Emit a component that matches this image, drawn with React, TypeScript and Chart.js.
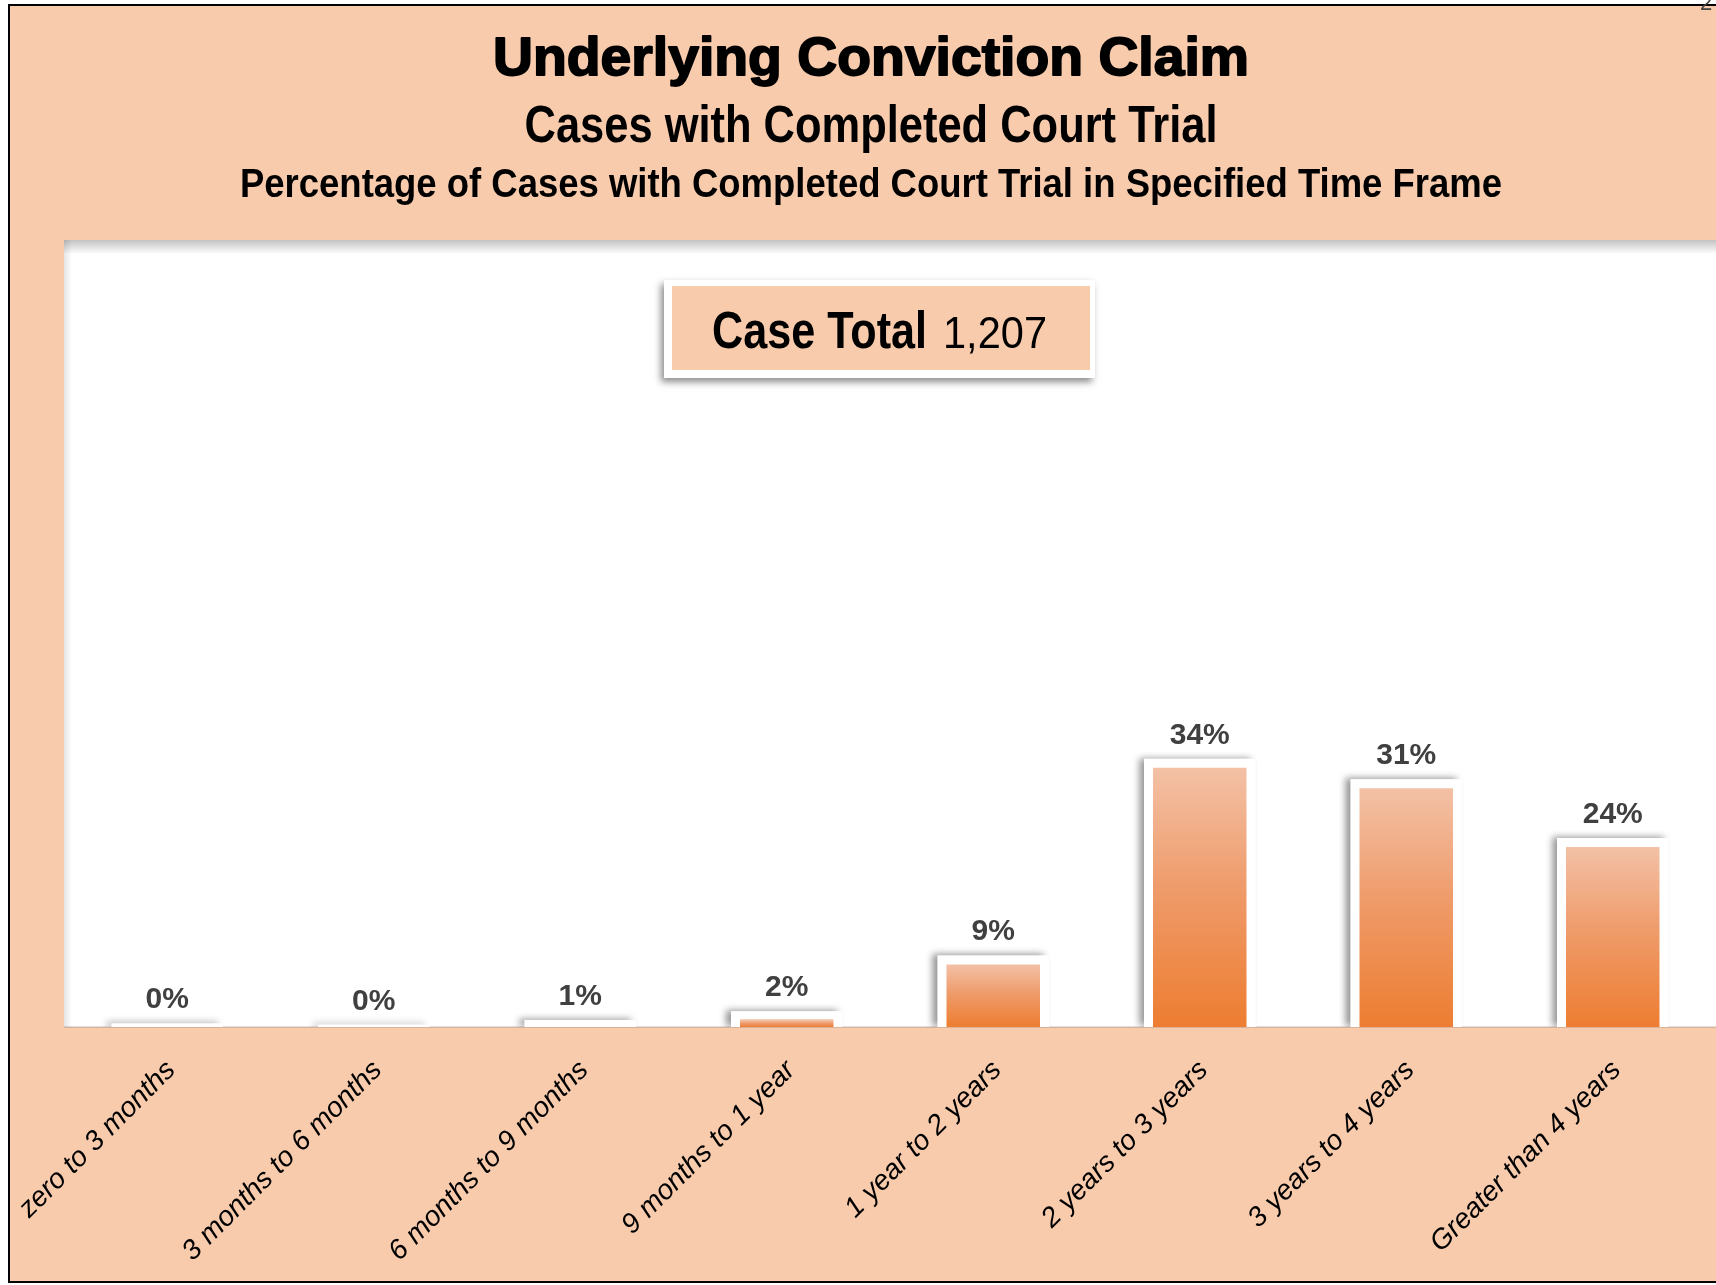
import React, { useEffect, useRef } from 'react';
import { Chart, registerables } from 'chart.js';

Chart.register(...registerables);

// ---- data ----
const CATEGORIES = [
  'zero to 3 months',
  '3 months to 6 months',
  '6 months to 9 months',
  '9 months to 1 year',
  '1 year to 2 years',
  '2 years to 3 years',
  '3 years to 4 years',
  'Greater than 4 years',
];
const PERCENTAGES = [0.45, 0.3, 0.9, 2.0, 9.1, 34.1, 31.49, 24.0];
const Y_MIN = 0;
const Y_MAX = 100;

const TITLE = 'Underlying Conviction Claim';
const SUBTITLE = 'Cases with Completed Court Trial';
const SUBTITLE_2 = 'Percentage of Cases with Completed Court Trial in Specified Time Frame';
const CASE_TOTAL_LABEL = 'Case Total';
const CASE_TOTAL = 1207;
const PAGE_MARK = '2';

// ---- styles ----
const PEACH = '#F8CBAD';
const BAR_BORDER = 9;
const W = 1716;
const H = 1285;

function fitText(
  ctx: CanvasRenderingContext2D,
  text: string,
  x: number,
  baseline: number,
  font: string,
  targetWidth: number,
  align: 'center' | 'left',
  stroke = 0,
) {
  ctx.save();
  ctx.font = font;
  ctx.textBaseline = 'alphabetic';
  ctx.textAlign = 'left';
  const w = ctx.measureText(text).width;
  const s = targetWidth / w;
  const left = align === 'center' ? x - targetWidth / 2 : x;
  ctx.translate(left, baseline);
  ctx.scale(s, 1);
  ctx.fillStyle = '#000';
  ctx.fillText(text, 0, 0);
  if (stroke > 0) {
    ctx.strokeStyle = '#000';
    ctx.lineWidth = stroke;
    ctx.lineJoin = 'round';
    ctx.strokeText(text, 0, 0);
  }
  ctx.restore();
}

const decorPlugin = {
  id: 'decor',
  beforeDraw(chart: any) {
    const { ctx, chartArea } = chart;
    const { left, top, right, bottom } = chartArea;
    ctx.save();
    // titles
    fitText(ctx, TITLE, 871, 75, 'bold 54px "Liberation Sans", Arial, sans-serif', 756, 'center', 1.8);
    fitText(ctx, SUBTITLE, 871, 142, 'bold 52px "Liberation Sans", Arial, sans-serif', 693, 'center');
    fitText(ctx, SUBTITLE_2, 871, 197, 'bold 40px "Liberation Sans", Arial, sans-serif', 1262, 'center');

    // plot area
    ctx.fillStyle = '#ffffff';
    ctx.fillRect(left, top, right - left, bottom - top);
    let g = ctx.createLinearGradient(0, top, 0, top + 14);
    g.addColorStop(0, 'rgba(0,0,0,0.24)');
    g.addColorStop(1, 'rgba(0,0,0,0)');
    ctx.fillStyle = g;
    ctx.fillRect(left, top, right - left, 14);
    g = ctx.createLinearGradient(left, 0, left + 8, 0);
    g.addColorStop(0, 'rgba(0,0,0,0.10)');
    g.addColorStop(1, 'rgba(0,0,0,0)');
    ctx.fillStyle = g;
    ctx.fillRect(left, top, 8, bottom - top);
    ctx.fillStyle = 'rgba(0,0,0,0.12)';
    ctx.fillRect(left, bottom - 1, right - left, 2);

    // case total box
    ctx.save();
    ctx.shadowColor = 'rgba(0,0,0,0.45)';
    ctx.shadowBlur = 7;
    ctx.shadowOffsetX = -3;
    ctx.shadowOffsetY = 4;
    ctx.fillStyle = '#ffffff';
    ctx.fillRect(664, 280, 431, 98);
    ctx.restore();
    ctx.fillStyle = PEACH;
    ctx.fillRect(672, 286, 418, 84);
    fitText(ctx, CASE_TOTAL_LABEL, 712, 348, 'bold 52px "Liberation Sans", Arial, sans-serif', 215, 'left');
    fitText(ctx, CASE_TOTAL.toLocaleString('en-US'), 943, 348, '44px "Liberation Sans", Arial, sans-serif', 104, 'left');

    // page mark (cut off at the top right)
    ctx.fillStyle = '#444';
    ctx.font = '22px "Liberation Sans", Arial, sans-serif';
    ctx.textAlign = 'left';
    ctx.textBaseline = 'alphabetic';
    ctx.fillText(PAGE_MARK, 1700, 10);
    ctx.restore();
  },
  beforeDatasetsDraw(chart: any) {
    const { ctx, chartArea } = chart;
    const meta = chart.getDatasetMeta(0);
    ctx.save();
    ctx.beginPath();
    ctx.rect(chartArea.left, chartArea.top, chartArea.right - chartArea.left, chartArea.bottom - chartArea.top);
    ctx.clip();
    meta.data.forEach((el: any) => {
      const { x, y, base, width } = el.getProps(['x', 'y', 'base', 'width'], true);
      ctx.save();
      ctx.shadowColor = 'rgba(0,0,0,0.42)';
      ctx.shadowBlur = 7;
      ctx.shadowOffsetX = -5;
      ctx.shadowOffsetY = -1;
      ctx.fillStyle = '#ffffff';
      ctx.fillRect(x - width / 2, y, width, base - y);
      ctx.restore();
    });
    ctx.restore();
  },
  afterDatasetsDraw(chart: any) {
    const { ctx } = chart;
    const meta = chart.getDatasetMeta(0);
    ctx.save();
    ctx.fillStyle = '#404040';
    ctx.font = 'bold 30px "Liberation Sans", Arial, sans-serif';
    ctx.textAlign = 'center';
    ctx.textBaseline = 'alphabetic';
    meta.data.forEach((el: any, i: number) => {
      const { x, y } = el.getProps(['x', 'y'], true);
      ctx.fillText(`${Math.round(PERCENTAGES[i])}%`, x, y - 15);
    });
    ctx.restore();
  },
};

export default function App() {
  const ref = useRef<HTMLCanvasElement>(null);

  useEffect(() => {
    const canvas = ref.current;
    if (!canvas) return;
    const chart = new Chart(canvas, {
      type: 'bar',
      data: {
        labels: CATEGORIES,
        datasets: [
          {
            data: PERCENTAGES,
            backgroundColor: (c: any) => {
              const ch = c.chart;
              if (!ch.chartArea || c.type !== 'data') return '#ED7D31';
              const ys = ch.scales.y;
              const top = ys.getPixelForValue(c.raw) + BAR_BORDER;
              const bottom = ys.getPixelForValue(0);
              if (bottom - top < 2) return '#ffffff';
              const g = ch.ctx.createLinearGradient(0, top, 0, bottom);
              g.addColorStop(0, '#F3C1A6');
              g.addColorStop(0.45, '#EF9C6C');
              g.addColorStop(1, '#ED7D31');
              return g;
            },
            borderColor: '#ffffff',
            borderWidth: BAR_BORDER,
            borderSkipped: 'start',
            barPercentage: 0.54,
            categoryPercentage: 1.0,
          },
        ],
      },
      options: {
        responsive: false,
        animation: false,
        events: [],
        layout: { padding: { left: 64, top: 240, right: 0, bottom: 0 } },
        plugins: {
          legend: { display: false },
          tooltip: { enabled: false },
          title: { display: false },
        },
        scales: {
          x: {
            grid: { display: false, drawTicks: false },
            border: { display: false },
            ticks: {
              autoSkip: false,
              minRotation: 45,
              maxRotation: 45,
              padding: 27,
              labelOffset: 4,
              color: '#000',
              font: { family: '"Liberation Sans", Arial, sans-serif', size: 28, style: 'italic' },
            },
            afterFit: (scale: any) => {
              scale.height = H - 1027;
              scale.paddingLeft = 0;
              scale.paddingRight = 0;
            },
          },
          y: {
            display: false,
            min: Y_MIN,
            max: Y_MAX,
          },
        },
      },
      plugins: [decorPlugin],
    } as any);
    return () => chart.destroy();
  }, []);

  return (
    <div
      style={{
        position: 'absolute',
        left: 0,
        top: 0,
        width: W,
        height: H,
        overflow: 'hidden',
        background: '#ffffff',
      }}
    >
      <div
        style={{
          position: 'absolute',
          left: 8,
          top: 4,
          width: 1800,
          height: 1275,
          background: PEACH,
          border: '2px solid #000',
        }}
      />
      <canvas
        ref={ref}
        width={W}
        height={H}
        style={{ position: 'absolute', left: 0, top: 0, width: W, height: H }}
      />
    </div>
  );
}
